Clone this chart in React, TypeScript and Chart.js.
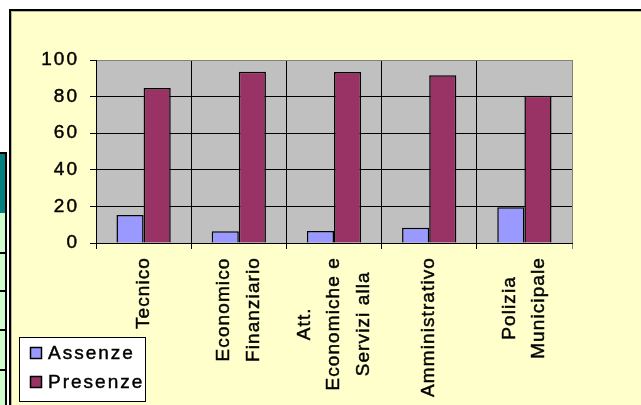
import React, { useEffect, useRef } from 'react';
import { Chart, registerables } from 'chart.js';

Chart.register(...registerables);

// ---- data ----
const categoryLines: string[][] = [
  ['Tecnico'],
  ['Economico', 'Finanziario'],
  ['Att.', 'Economiche e', 'Servizi alla'],
  ['Amministrativo'],
  ['Polizia', 'Municipale'],
];
const categories = categoryLines.map((l) => l.join(' '));
const assenze = [15.3, 6.4, 6.5, 8.4, 19.5];
const presenze = [84.7, 93.6, 93.5, 91.6, 80.5];
const yMin = 0;
const yMax = 100;
const yStep = 20;
const seriesNames = ['Assenze', 'Presenze'];
const seriesColors = ['#9999FF', '#993366'];

const W = 641;
const H = 405;
const FAMILY = '"Liberation Sans", Arial, sans-serif';
const FONT = '19px ' + FAMILY;
const SPACING = '2px';
const X_SPACING = '1.1px';
const LINE_GAP = 29.5;
const STROKE = 0.45;

const decor = {
  id: 'decor',
  beforeDraw(chart: any) {
    const ctx = chart.ctx as CanvasRenderingContext2D;
    ctx.save();
    ctx.fillStyle = '#ffffff';
    ctx.fillRect(0, 0, W, H);
    // table strip on the left
    ctx.fillStyle = '#008080';
    ctx.fillRect(0, 154, 5, 59);
    ctx.fillStyle = '#CCFFCC';
    ctx.fillRect(0, 213, 5, H - 213);
    ctx.fillStyle = '#000';
    ctx.fillRect(0, 152, 7, 2);
    ctx.fillRect(5, 152, 2, H - 152);
    for (const y of [252, 290, 329, 369]) ctx.fillRect(0, y, 5, 2);
    // chart panel
    ctx.fillStyle = '#FFFFCC';
    ctx.fillRect(9, 9, W - 9, H - 9);
    ctx.fillStyle = '#000';
    ctx.fillRect(9, 9, W - 9, 2);
    ctx.fillRect(9, 9, 2, H - 9);
    ctx.fillStyle = '#B8B898';
    ctx.fillRect(11, 11, W - 11, 1);
    ctx.fillRect(11, 11, 1, H - 11);
    // plot area
    const a = chart.chartArea;
    ctx.fillStyle = '#C0C0C0';
    ctx.fillRect(a.left, a.top, a.right - a.left, a.bottom - a.top);
    ctx.restore();
    (ctx as any).letterSpacing = SPACING;
  },
  afterDraw(chart: any) {
    const ctx = chart.ctx as CanvasRenderingContext2D;
    const xs = chart.scales.x;
    ctx.save();
    (ctx as any).letterSpacing = X_SPACING;
    ctx.font = FONT;
    ctx.fillStyle = '#000';
    ctx.strokeStyle = '#000';
    ctx.lineWidth = STROKE;
    ctx.textAlign = 'center';
    ctx.textBaseline = 'middle';
    categoryLines.forEach((lines, i) => {
      const cx = xs.getPixelForTick(i);
      const maxW = Math.max(...lines.map((l) => ctx.measureText(l).width));
      const cy = xs.top + 14 + maxW / 2;
      lines.forEach((l, j) => {
        ctx.save();
        ctx.translate(cx + (j - (lines.length - 1) / 2) * LINE_GAP, cy);
        ctx.rotate(-Math.PI / 2);
        ctx.fillText(l, 0, 0);
        ctx.strokeText(l, 0, 0);
        ctx.restore();
      });
    });
    // legend
    (ctx as any).letterSpacing = SPACING;
    const lx = 19.5, ly = 337.5, lw = 126, lh = 64;
    ctx.fillStyle = '#fff';
    ctx.fillRect(lx, ly, lw, lh);
    ctx.strokeStyle = '#000';
    ctx.lineWidth = 1;
    ctx.strokeRect(lx, ly, lw, lh);
    ctx.textAlign = 'left';
    const rows = [353, 382];
    seriesNames.forEach((name, i) => {
      const cy = rows[i];
      ctx.fillStyle = seriesColors[i];
      ctx.fillRect(30.5, cy - 5.5, 11, 11);
      ctx.strokeStyle = '#000';
      ctx.lineWidth = 1.5;
      ctx.strokeRect(30.5, cy - 5.5, 11, 11);
      ctx.fillStyle = '#000';
      ctx.lineWidth = STROKE;
      ctx.fillText(name, 48, cy + 1);
      ctx.strokeText(name, 48, cy + 1);
    });
    ctx.restore();
    (ctx as any).letterSpacing = '0px';
  },
};

export default function App() {
  const ref = useRef<HTMLCanvasElement>(null);
  useEffect(() => {
    const canvas = ref.current!;
    const chart = new Chart(canvas, {
      type: 'bar',
      data: {
        labels: categories,
        datasets: [
          {
            label: seriesNames[0],
            data: assenze,
            backgroundColor: seriesColors[0],
            borderColor: '#000',
            borderWidth: 1.5,
            barPercentage: 1,
            categoryPercentage: 0.57,
          },
          {
            label: seriesNames[1],
            data: presenze,
            backgroundColor: seriesColors[1],
            borderColor: '#000',
            borderWidth: 1.5,
            barPercentage: 1,
            categoryPercentage: 0.57,
          },
        ],
      },
      options: {
        responsive: false,
        animation: false,
        devicePixelRatio: 1,
        layout: { padding: { left: 10, top: 60, right: 69, bottom: 0 } },
        plugins: { legend: { display: false }, tooltip: { enabled: false } },
        scales: {
          x: {
            offset: true,
            grid: {
              offset: true,
              color: (c: any) => (c.tick ? '#000' : '#808080'),
              tickColor: (c: any) => (c.tick ? '#000' : '#808080'),
              tickLength: 6,
              lineWidth: 1,
            },
            border: { color: '#000', width: 1 },
            ticks: { display: false },
            afterFit: (s: any) => {
              s.height = 162;
            },
          },
          y: {
            min: yMin,
            max: yMax,
            ticks: {
              stepSize: yStep,
              color: '#000',
              padding: 11,
              textStrokeColor: '#000',
              textStrokeWidth: STROKE,
              font: { family: FAMILY, size: 19 },
            },
            grid: {
              color: (c: any) => (c.tick && c.tick.value === yMax ? '#808080' : '#000'),
              tickColor: '#000',
              tickLength: 6,
              lineWidth: 1,
            },
            border: { color: '#000', width: 1 },
            afterFit: (s: any) => {
              s.width = 86;
            },
          },
        },
      },
      plugins: [decor],
    });
    return () => chart.destroy();
  }, []);
  return (
    <div style={{ position: 'absolute', left: 0, top: 0, width: W, height: H }}>
      <canvas ref={ref} width={W} height={H} style={{ display: 'block', width: W, height: H }} />
    </div>
  );
}
